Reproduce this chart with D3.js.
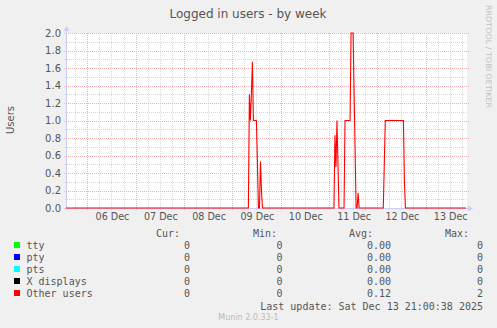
<!DOCTYPE html>
<html>
<head>
<meta charset="utf-8">
<script src="https://cdn.jsdelivr.net/npm/d3@7"></script>
<style>
  html, body { margin: 0; padding: 0; background: #f0f0f0; }
  svg { display: block; }
  text { font-family: "DejaVu Sans", sans-serif; fill: #555; }
  .mono { font-family: "DejaVu Sans Mono", monospace; font-size: 10px; }
</style>
</head>
<body>
<div class="container"></div>
<script>
// munin "users" week graph

const seriesNames = ["tty", "pty", "pts", "X displays", "Other users"];
const seriesColors = ["#00ff00", "#0000ff", "#00ffff", "#000000", "#ff0000"];
const curValues = ["0", "0", "0", "0", "0"];
const minValues = ["0", "0", "0", "0", "0"];
const avgValues = ["0.00", "0.00", "0.00", "0.00", "0.12"];
const maxValues = ["0", "0", "0", "0", "2"];

const timeRange = ["2025-12-05T13:25Z", "2025-12-13T20:05Z"];

// only "Other users" ever leaves zero
const otherUsers = [
  ["2025-12-05T13:25Z", 0],
  ["2025-12-09T08:00Z", 0],
  ["2025-12-09T08:30Z", 1.3],
  ["2025-12-09T09:00Z", 1.0],
  ["2025-12-09T09:30Z", 1.3],
  ["2025-12-09T10:00Z", 1.67],
  ["2025-12-09T10:30Z", 1.0],
  ["2025-12-09T12:00Z", 1.0],
  ["2025-12-09T13:00Z", 0],
  ["2025-12-09T13:30Z", 0],
  ["2025-12-09T14:00Z", 0.53],
  ["2025-12-09T14:30Z", 0.2],
  ["2025-12-09T15:00Z", 0],
  ["2025-12-11T02:30Z", 0],
  ["2025-12-11T03:00Z", 0.83],
  ["2025-12-11T03:30Z", 0.47],
  ["2025-12-11T04:00Z", 1.0],
  ["2025-12-11T05:00Z", 0],
  ["2025-12-11T07:30Z", 0],
  ["2025-12-11T08:00Z", 1.0],
  ["2025-12-11T10:30Z", 1.0],
  ["2025-12-11T11:00Z", 2.0],
  ["2025-12-11T12:00Z", 2.0],
  ["2025-12-11T13:30Z", 0],
  ["2025-12-11T14:00Z", 0],
  ["2025-12-11T14:30Z", 0.17],
  ["2025-12-11T15:00Z", 0],
  ["2025-12-12T03:00Z", 0],
  ["2025-12-12T04:00Z", 1.0],
  ["2025-12-12T13:00Z", 1.0],
  ["2025-12-12T13:30Z", 0.3],
  ["2025-12-12T14:00Z", 0],
  ["2025-12-13T20:05Z", 0],
];

const yMax = 2.0;

let w = 497;
let h = 328;
const plot = { left: 66, right: 466, top: 33, bottom: 208 };

const svg = d3.select(".container")
  .append("svg")
  .attr("width", w)
  .attr("height", h);

svg.append("rect")
  .attr("width", w).attr("height", h)
  .attr("fill", "#f0f0f0");

const start = new Date(timeRange[0]);
const end = new Date(timeRange[1]);

const xScale = d3.scaleUtc()
  .domain([start, end])
  .range([plot.left, plot.right]);

const yScale = d3.scaleLinear()
  .domain([0, yMax])
  .range([plot.bottom, plot.top]);

// white canvas
svg.append("rect")
  .attr("x", plot.left)
  .attr("y", plot.top)
  .attr("width", plot.right - plot.left + 1)
  .attr("height", plot.bottom - plot.top)
  .attr("fill", "#ffffff");

const grid = svg.append("g").attr("shape-rendering", "crispEdges");

// minor grid (gray), major grid (red)
const majorY = yScale.ticks(10);
const minorY = yScale.ticks(20).filter((v) => !majorY.some((m) => Math.abs(m - v) < 1e-9));
const majorX = d3.utcDay.range(start, end);
const minorX = d3.utcHour.every(6).range(start, end).filter((d) => d.getUTCHours() !== 0);

grid.selectAll(".minY")
  .data(minorY)
  .join("line")
  .attr("x1", plot.left - 1).attr("x2", plot.right + 1)
  .attr("y1", (d) => Math.round(yScale(d)) + 0.5)
  .attr("y2", (d) => Math.round(yScale(d)) + 0.5)
  .attr("stroke", "#d6d6d6")
  .attr("stroke-dasharray", "1,1");

grid.selectAll(".minX")
  .data(minorX)
  .join("line")
  .attr("x1", (d) => Math.round(xScale(d)) + 0.5)
  .attr("x2", (d) => Math.round(xScale(d)) + 0.5)
  .attr("y1", plot.top).attr("y2", plot.bottom + 2)
  .attr("stroke", "#d6d6d6")
  .attr("stroke-dasharray", "1,1");

grid.selectAll(".majY")
  .data(majorY.filter((v) => v > 0))
  .join("line")
  .attr("x1", plot.left - 2).attr("x2", plot.right + 3)
  .attr("y1", (d) => Math.round(yScale(d)) + 0.5)
  .attr("y2", (d) => Math.round(yScale(d)) + 0.5)
  .attr("stroke", "#f3b0b0")
  .attr("stroke-dasharray", "1,1");

grid.selectAll(".majX")
  .data(majorX)
  .join("line")
  .attr("x1", (d) => Math.round(xScale(d)) + 0.5)
  .attr("x2", (d) => Math.round(xScale(d)) + 0.5)
  .attr("y1", plot.top).attr("y2", plot.bottom + 3)
  .attr("stroke", "#f3b0b0")
  .attr("stroke-dasharray", "1,1");

// axes with arrows
const axisColor = "#ccccf8";
svg.append("line")
  .attr("x1", plot.left + 0.5).attr("x2", plot.left + 0.5)
  .attr("y1", plot.bottom + 2).attr("y2", plot.top - 4)
  .attr("stroke", axisColor);
svg.append("path")
  .attr("d", `M${plot.left - 2.5},${plot.top - 2} L${plot.left + 3.5},${plot.top - 2} L${plot.left + 0.5},${plot.top - 7} Z`)
  .attr("fill", axisColor);
svg.append("line")
  .attr("x1", plot.left - 2).attr("x2", plot.right + 4)
  .attr("y1", plot.bottom + 0.5).attr("y2", plot.bottom + 0.5)
  .attr("stroke", axisColor);
svg.append("path")
  .attr("d", `M${plot.right + 2},${plot.bottom - 2.5} L${plot.right + 2},${plot.bottom + 3.5} L${plot.right + 7},${plot.bottom + 0.5} Z`)
  .attr("fill", axisColor);

// y labels
svg.selectAll(".ylab")
  .data(majorY)
  .join("text")
  .attr("x", 61)
  .attr("y", (d) => yScale(d) + 3.5)
  .attr("text-anchor", "end")
  .attr("font-size", "10px")
  .text((d) => d3.format(".1f")(d));

// x labels at noon of each day
const fmtDay = d3.utcFormat("%d %b");
svg.selectAll(".xlab")
  .data(majorX)
  .join("text")
  .attr("x", (d) => xScale(d3.utcHour.offset(d, 12)) + 1)
  .attr("y", 220)
  .attr("text-anchor", "middle")
  .attr("font-size", "9.6px")
  .text((d) => fmtDay(d));

// series line
const line = d3.line()
  .x((d) => xScale(new Date(d[0])))
  .y((d) => yScale(d[1]));

svg.append("path")
  .datum(otherUsers)
  .attr("d", line)
  .attr("fill", "none")
  .attr("stroke", seriesColors[4])
  .attr("stroke-width", 1.1)
  .attr("stroke-linejoin", "miter");

// title and labels
svg.append("text")
  .attr("x", 248).attr("y", 18)
  .attr("text-anchor", "middle")
  .attr("font-size", "12px")
  .text("Logged in users - by week");

svg.append("text")
  .attr("transform", `translate(14, 120) rotate(-90)`)
  .attr("text-anchor", "middle")
  .attr("font-size", "10px")
  .text("Users");

svg.append("text")
  .attr("transform", `translate(486, 5) rotate(90)`)
  .attr("font-size", "7.6px")
  .attr("textLength", 103)
  .attr("lengthAdjust", "spacingAndGlyphs")
  .style("fill", "#c0c0c0")
  .text("RRDTOOL / TOBI OETIKER");

// legend
const headers = [["Cur:", 180], ["Min:", 277], ["Avg:", 373], ["Max:", 469]];
svg.selectAll(".hdr")
  .data(headers)
  .join("text")
  .attr("class", "mono")
  .attr("x", (d) => d[1])
  .attr("y", 237)
  .attr("text-anchor", "end")
  .text((d) => d[0]);

const rowY = (i) => 249 + i * 12;
const leg = svg.selectAll(".leg")
  .data(seriesNames)
  .join("g");

leg.append("rect")
  .attr("x", 14)
  .attr("y", (d, i) => rowY(i) - 7)
  .attr("width", 6).attr("height", 6)
  .attr("fill", (d, i) => seriesColors[i]);

leg.append("text")
  .attr("class", "mono")
  .attr("x", 26.5)
  .attr("y", (d, i) => rowY(i))
  .text((d) => d);

const cols = [[curValues, 190], [minValues, 282.5], [avgValues, 391], [maxValues, 483]];
cols.forEach((c) => {
  svg.selectAll(null)
    .data(c[0])
    .join("text")
    .attr("class", "mono")
    .attr("x", c[1])
    .attr("y", (d, i) => rowY(i))
    .attr("text-anchor", "end")
    .text((d) => d);
});

svg.append("text")
  .attr("class", "mono")
  .attr("x", 483).attr("y", 309.5)
  .attr("text-anchor", "end")
  .text("Last update: Sat Dec 13 21:00:38 2025");

svg.append("text")
  .attr("x", 248.5).attr("y", 320)
  .attr("text-anchor", "middle")
  .attr("font-size", "8px")
  .style("fill", "#bbbbbb")
  .text("Munin 2.0.33-1");
</script>
</body>
</html>
